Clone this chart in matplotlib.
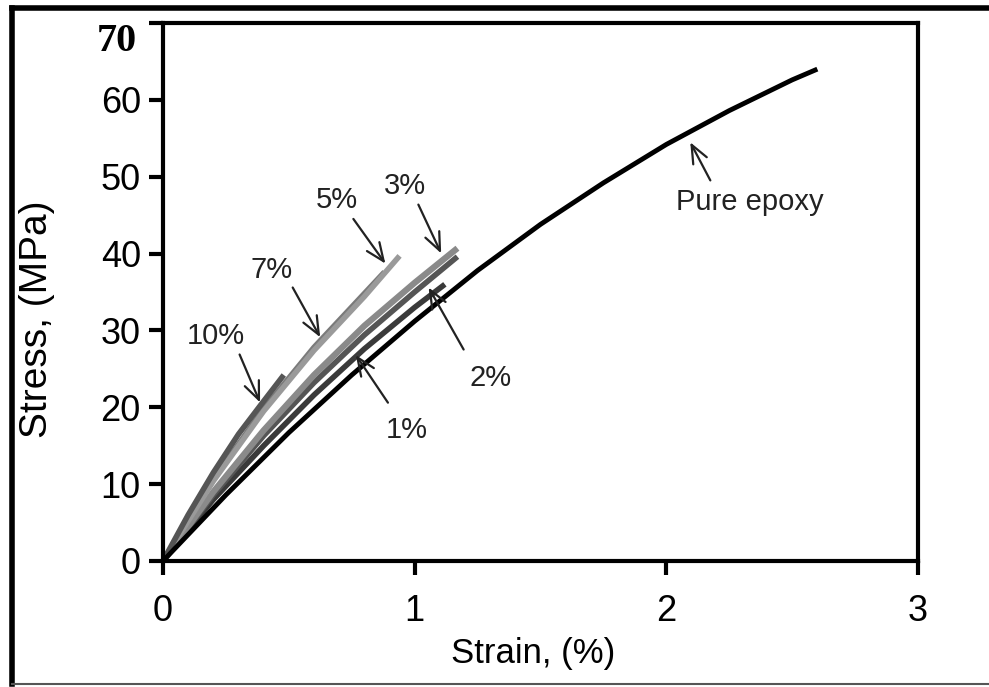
import matplotlib.pyplot as plt
from matplotlib.lines import Line2D

plt.rcParams['font.family'] = ['Liberation Sans', 'DejaVu Sans']

# Stress-strain curves, strain in %, stress in MPa
strain_pure = [0, 0.25, 0.5, 0.75, 1.0, 1.25, 1.5, 1.75, 2.0, 2.25, 2.5, 2.6]
stress_pure = [0, 8.6, 16.7, 24.2, 31.2, 37.8, 43.8, 49.2, 54.2, 58.6, 62.6, 64.0]

strain_1 = [0, 0.2, 0.4, 0.6, 0.8, 1.0, 1.12]
stress_1 = [0, 8.0, 15.0, 21.6, 27.6, 33.0, 36.0]

strain_2 = [0, 0.2, 0.4, 0.6, 0.8, 1.0, 1.17]
stress_2 = [0, 8.6, 16.3, 23.2, 29.4, 35.0, 39.6]

strain_3 = [0, 0.2, 0.4, 0.6, 0.8, 1.0, 1.17]
stress_3 = [0, 9.0, 17.0, 24.2, 30.6, 36.2, 40.7]

strain_5 = [0, 0.2, 0.4, 0.6, 0.8, 0.94]
stress_5 = [0, 10.4, 19.5, 27.4, 34.4, 39.7]

strain_7 = [0, 0.2, 0.4, 0.6, 0.8, 0.88]
stress_7 = [0, 10.6, 19.8, 27.8, 34.8, 37.6]

strain_10 = [0, 0.1, 0.2, 0.3, 0.4, 0.48]
stress_10 = [0, 6.0, 11.5, 16.5, 20.8, 24.2]

# label, text position, arrow tail, arrow tip
labels = ['10%', '7%', '5%', '3%', '2%', '1%', 'Pure epoxy']
text_xy = [(0.21, 29.3), (0.43, 37.9), (0.69, 47.0), (0.96, 48.8),
           (1.30, 23.8), (0.97, 17.1), (2.33, 46.7)]
tail_xy = [(0.30, 27.2), (0.51, 35.9), (0.75, 44.8), (1.01, 46.7),
           (1.20, 27.2), (0.90, 20.3), (2.18, 49.2)]
tip_xy = [(0.39, 20.3), (0.63, 28.8), (0.89, 38.4), (1.11, 39.7),
          (1.05, 35.9), (0.76, 27.1), (2.09, 54.8)]

fig = plt.figure(figsize=(9.89, 6.87), dpi=100)
ax = fig.add_axes([163 / 989, 1 - 561 / 687, (918 - 163) / 989, (561 - 23) / 687])

ax.plot(strain_1, stress_1, color='#3a3a3a', lw=4, solid_capstyle='butt')
ax.plot(strain_2, stress_2, color='#555555', lw=4, solid_capstyle='butt')
ax.plot(strain_3, stress_3, color='#8a8a8a', lw=4.5, solid_capstyle='butt')
ax.plot(strain_7, stress_7, color='#7a7a7a', lw=4, solid_capstyle='butt')
ax.plot(strain_5, stress_5, color='#9a9a9a', lw=4, solid_capstyle='butt')
ax.plot(strain_10, stress_10, color='#555555', lw=4, solid_capstyle='butt')
ax.plot(strain_pure, stress_pure, color='black', lw=3.5, solid_capstyle='butt')

for lab, txy, a, b in zip(labels, text_xy, tail_xy, tip_xy):
    ax.annotate('', xy=b, xytext=a,
                arrowprops=dict(arrowstyle='->,head_length=1.3,head_width=0.55',
                                color='#222222', lw=1.6))
    ax.text(txy[0], txy[1], lab, fontsize=21, ha='center', va='center', color='#222222')

ax.set_xlim(0, 3)
ax.set_ylim(0, 70)
ax.set_xticks([0, 1, 2, 3])
ax.set_yticks([0, 10, 20, 30, 40, 50, 60, 70])
ax.set_yticklabels(['0', '10', '20', '30', '40', '50', '60', ''])
ax.tick_params(axis='both', direction='out', length=10, width=3, labelsize=26, pad=6)
ax.tick_params(axis='x', pad=14)
for s in ax.spines.values():
    s.set_linewidth(3)

# the top tick label is set in a serif face
ax.text(-0.035, 70, '70', transform=ax.get_yaxis_transform(), ha='right', va='top',
        fontsize=29, fontweight='bold', family='Liberation Serif')

ax.set_xlabel('Strain, (%)', fontsize=25)
ax.set_ylabel('Stress, (MPa)', fontsize=28)
ax.xaxis.set_label_coords(0.49, -0.142)
ax.yaxis.set_label_coords(-0.143, 0.45)

# outer frame
fig.add_artist(Line2D([12 / 989, 12 / 989], [1 - 8 / 687, 1 - 684 / 687], transform=fig.transFigure, color='black', lw=4))
fig.add_artist(Line2D([12 / 989, 1], [1 - 8 / 687, 1 - 8 / 687], transform=fig.transFigure, color='black', lw=4))
fig.add_artist(Line2D([12 / 989, 1], [1 - 684 / 687, 1 - 684 / 687], transform=fig.transFigure, color='#555555', lw=1.5))

fig.savefig('out.png', dpi=100)
